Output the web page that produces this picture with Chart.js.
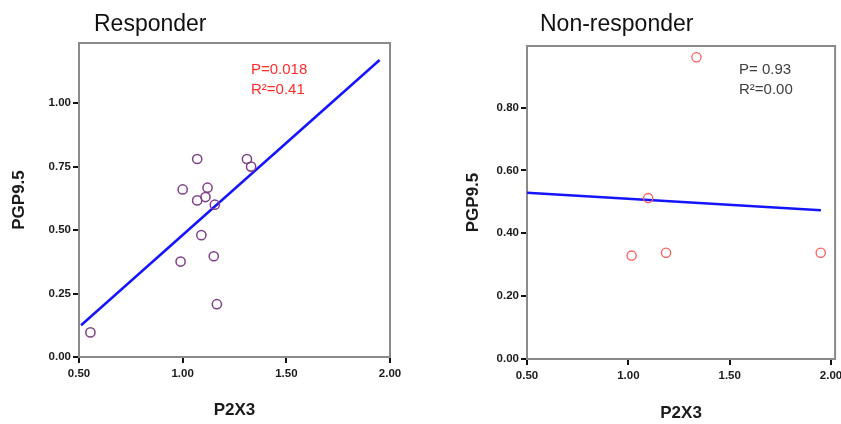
<!DOCTYPE html>
<html>
<head>
<meta charset="utf-8">
<script src="https://cdn.jsdelivr.net/npm/chart.js@4.4.0/dist/chart.umd.min.js"></script>
<style>
body{margin:0;background:#fff;}
#wrap{position:relative;width:841px;height:424px;overflow:hidden;}
canvas{position:absolute;top:0;}
</style>
</head>
<body>
<div id="wrap">
  <canvas id="responder" width="420" height="424" style="left:0"></canvas>
  <canvas id="nonresponder" width="421" height="424" style="left:420px"></canvas>
</div>
<script>
// responder panel
var respP2X3 = [1.07, 1.31, 1.33, 1.00, 1.12, 1.07, 1.11, 1.155, 1.09, 0.99, 1.15, 1.165, 0.555];
var respPGP  = [0.78, 0.78, 0.75, 0.66, 0.667, 0.617, 0.63, 0.60, 0.48, 0.376, 0.397, 0.208, 0.097];
var respFitX = [0.51, 1.95];
var respFitY = [0.125, 1.17];
var respXTicks = [0.5, 1.0, 1.5, 2.0];
var respYTicks = [0, 0.25, 0.5, 0.75, 1.0];

// non-responder panel
var nonP2X3 = [1.336, 1.098, 1.016, 1.186, 1.949];
var nonPGP  = [0.96, 0.512, 0.329, 0.338, 0.338];
var nonFitX = [0.5, 1.95];
var nonFitY = [0.529, 0.473];
var nonXTicks = [0.5, 1.0, 1.5, 2.0];
var nonYTicks = [0, 0.2, 0.4, 0.6, 0.8];

var fam = "'Liberation Sans', Arial, sans-serif";
var tickFont = {family: fam, size: 11.5, weight: 'bold'};
var axisFont = {family: fam, size: 17, weight: 'bold'};

function toPoints(xs, ys){
  return xs.map(function(x, i){ return {x: x, y: ys[i]}; });
}

// frame box, panel title and the P / R2 notes
var panelText = {
  id: 'panelText',
  beforeDatasetsDraw: function(chart, args, o){
    var a = chart.chartArea, ctx = chart.ctx;
    ctx.save();
    ctx.strokeStyle = '#8a8a8a';
    ctx.lineWidth = 2;
    ctx.strokeRect(a.left, a.top, a.right - a.left, a.bottom - a.top);
    ctx.restore();
  },
  afterDraw: function(chart, args, o){
    var ctx = chart.ctx;
    ctx.save();
    ctx.fillStyle = '#111';
    ctx.font = '23px ' + fam;
    ctx.textBaseline = 'alphabetic';
    ctx.fillText(o.title, o.titleX, 31);
    ctx.fillStyle = o.noteColor;
    ctx.font = '15px ' + fam;
    for(var i = 0; i < o.notes.length; i++){
      ctx.fillText(o.notes[i], o.noteX, 74 + i * 19.5);
    }
    ctx.restore();
  }
};

function makeChart(id, c){
  var cfg = {
    type: 'scatter',
    data: {
      datasets: [{
        data: toPoints(c.xs, c.ys),
        pointStyle: 'circle',
        pointRadius: 4.6,
        pointBorderWidth: c.ptWidth,
        borderColor: c.ptColor,
        backgroundColor: 'rgba(0,0,0,0)'
      },{
        type: 'line',
        data: toPoints(c.fitX, c.fitY),
        borderColor: '#1414ff',
        borderWidth: 2.5,
        pointRadius: 0,
        fill: false
      }]
    },
    options: {
      responsive: false,
      animation: false,
      layout: {padding: c.pad},
      plugins: {
        legend: {display: false},
        tooltip: {enabled: false},
        panelText: c.text
      },
      scales: {
        x: {
          type: 'linear', min: 0.5, max: c.xMax,
          afterBuildTicks: function(s){ s.ticks = c.xTicks.map(function(v){ return {value: v}; }); },
          afterFit: function(s){ s.height = c.xHeight; s.paddingLeft = 0; s.paddingRight = 0; },
          ticks: {font: tickFont, color: '#1a1a1a', padding: 4, maxRotation: 0,
            callback: function(v){ return v.toFixed(2); }},
          grid: {drawOnChartArea: false, color: '#111', lineWidth: 2, tickLength: 6},
          border: {display: false},
          title: {display: true, text: 'P2X3', font: axisFont, color: '#1a1a1a', padding: {top: 0, bottom: c.xTitlePad}}
        },
        y: {
          type: 'linear', min: 0, max: c.yMax,
          afterBuildTicks: function(s){ s.ticks = c.yTicks.map(function(v){ return {value: v}; }); },
          afterFit: function(s){ s.width = c.yWidth; s.paddingTop = 0; s.paddingBottom = 0; },
          ticks: {font: tickFont, color: '#1a1a1a', padding: 2,
            callback: function(v){ return v.toFixed(2); }},
          grid: {drawOnChartArea: false, color: '#111', lineWidth: 2, tickLength: 6},
          border: {display: false},
          title: {display: true, text: 'PGP9.5', font: axisFont, color: '#1a1a1a', padding: {top: c.yTitlePad, bottom: 0}}
        }
      }
    },
    plugins: [panelText]
  };
  return new Chart(document.getElementById(id), cfg);
}

var respChart = makeChart('responder', {
  xs: respP2X3, ys: respPGP, fitX: respFitX, fitY: respFitY,
  xTicks: respXTicks, yTicks: respYTicks,
  xMax: 2.0, yMax: 1.237,
  ptColor: '#7f3f88', ptWidth: 1.5,
  pad: {left: 0, right: 30, top: 43, bottom: 0},
  xHeight: 67, yWidth: 79, xTitlePad: 3, yTitlePad: 9,
  text: {title: 'Responder', titleX: 94, notes: ['P=0.018', 'R\u00b2=0.41'], noteColor: '#ff2a2a', noteX: 251}
});

var nonChart = makeChart('nonresponder', {
  xs: nonP2X3, ys: nonPGP, fitX: nonFitX, fitY: nonFitY,
  xTicks: nonXTicks, yTicks: nonYTicks,
  xMax: 2.02, yMax: 0.996,
  ptColor: '#ff5c5c', ptWidth: 1.3,
  pad: {left: 0, right: 3, top: 46, bottom: 0},
  xHeight: 65, yWidth: 107, xTitlePad: 0, yTitlePad: 43,
  text: {title: 'Non-responder', titleX: 120, notes: ['P= 0.93', 'R\u00b2=0.00'], noteColor: '#404040', noteX: 319}
});
</script>
</body>
</html>
